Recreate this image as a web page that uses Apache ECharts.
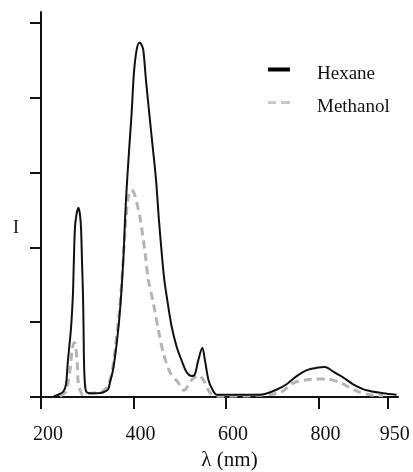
<!DOCTYPE html>
<html>
<head>
<meta charset="utf-8">
<script src="https://cdn.jsdelivr.net/npm/echarts@6/dist/echarts.min.js"></script>
<style>html,body{margin:0;padding:0;background:#fff}#c{width:413px;height:472px}</style>
</head>
<body>
<div id="c"></div>
<script>
// Wavelength (nm) and relative intensity for each solvent
var hexaneWavelength = [228, 237, 248, 254, 258, 265, 269, 271, 273.5, 277, 281, 284, 286.5, 288.7, 290.8, 292, 293, 295, 298, 306, 321, 334, 345, 349, 356, 364, 371, 378, 382, 385, 391, 396, 401, 407, 412.6, 416, 421, 427, 434, 441.5, 448.7, 455, 461, 466.6, 474, 482.6, 493.5, 504, 515, 526, 533, 540, 548.8, 554.6, 562, 569, 580, 600, 630, 674, 710, 731, 753, 775, 796, 814, 832, 854, 875, 904, 940, 969];
var hexaneIntensity = [0.01, 0.03, 0.07, 0.17, 0.47, 0.93, 1.37, 1.81, 2.27, 2.45, 2.53, 2.45, 2.27, 1.81, 1.37, 0.93, 0.47, 0.17, 0.07, 0.05, 0.05, 0.06, 0.10, 0.19, 0.37, 0.73, 1.17, 1.84, 2.41, 2.77, 3.35, 3.80, 4.34, 4.65, 4.74, 4.73, 4.65, 4.24, 3.80, 3.35, 2.91, 2.37, 1.93, 1.57, 1.26, 0.94, 0.67, 0.49, 0.33, 0.28, 0.31, 0.49, 0.66, 0.49, 0.23, 0.12, 0.03, 0.03, 0.03, 0.03, 0.10, 0.17, 0.28, 0.36, 0.39, 0.40, 0.34, 0.26, 0.17, 0.09, 0.05, 0.03];
var methanolWavelength = [241, 254, 258, 263, 267, 271.4, 274.6, 278, 280, 284, 291, 306, 328, 338, 347, 354.6, 362, 370, 375, 379.5, 384, 389, 396, 401, 407, 414, 425, 432, 442.8, 453.7, 464.5, 479, 497, 509, 526, 540, 551, 562, 570, 587, 658, 717, 746, 775, 796, 818, 847, 883, 911, 940];
var methanolIntensity = [0.01, 0.07, 0.17, 0.37, 0.61, 0.73, 0.70, 0.47, 0.23, 0.10, 0.03, 0.05, 0.06, 0.10, 0.19, 0.37, 0.73, 1.17, 1.57, 2.01, 2.41, 2.68, 2.77, 2.73, 2.60, 2.41, 1.93, 1.57, 1.26, 0.90, 0.59, 0.33, 0.19, 0.09, 0.23, 0.29, 0.23, 0.09, 0.03, 0.01, 0.02, 0.06, 0.19, 0.23, 0.24, 0.24, 0.19, 0.08, 0.03, 0.02];
var xTicks = [200, 400, 600, 800, 950];
var yTicks = [0, 1, 2, 3, 4, 5];
var seriesNames = ['Hexane', 'Methanol'];

function pairs(xs, ys) { return xs.map(function (x, i) { return [x, ys[i]]; }); }

var serif = "'Liberation Serif','Times New Roman',serif";
var chart = echarts.init(document.getElementById('c'), null, {renderer: 'canvas'});
chart.setOption({
  animation: false,
  backgroundColor: '#fff',
  grid: {left: 41, right: 15, top: 12, bottom: 75, containLabel: false, outerBoundsMode: 'none'},
  legend: {
    orient: 'vertical', left: 268, top: 65, padding: 0, itemGap: 14,
    itemWidth: 22, itemHeight: 14,
    textStyle: {fontFamily: serif, fontSize: 19, color: '#111', padding: [0, 0, 0, 22]},
    data: [
      {name: seriesNames[0], icon: 'path://M0,0L22,0L22,4L0,4Z M0,14L22,14', itemStyle: {color: '#000', borderWidth: 0}},
      {name: seriesNames[1], icon: 'path://M0,1L8,1L8,4L0,4Z M13,1L22,1L22,4L13,4Z M0,14L22,14', itemStyle: {color: '#c8c8c8', borderWidth: 0}}
    ]
  },
  graphic: [{
    type: 'text', left: 13, top: 219,
    style: {text: 'I', font: "18px 'Liberation Serif','Times New Roman',serif", fill: '#111'}
  }],
  xAxis: {
    type: 'value', min: 200, max: 972,
    name: 'λ (nm)', nameLocation: 'middle', nameGap: 47,
    nameTextStyle: {fontFamily: serif, fontSize: 21, color: '#111', padding: [0, 0, 0, 20]},
    axisLine: {lineStyle: {color: '#111', width: 2}},
    axisTick: {customValues: xTicks, length: 12, lineStyle: {color: '#111', width: 2}},
    axisLabel: {customValues: xTicks, margin: 28, fontFamily: serif, fontSize: 20, color: '#111', padding: [0, 0, 0, 14]},
    splitLine: {show: false}
  },
  yAxis: {
    type: 'value', min: 0, max: 5.15,
    axisLine: {show: true, lineStyle: {color: '#111', width: 2}},
    axisTick: {show: true, customValues: yTicks, length: 11, lineStyle: {color: '#111', width: 2}},
    axisLabel: {show: false},
    splitLine: {show: false}
  },
  series: [
    {name: seriesNames[0], type: 'line', data: pairs(hexaneWavelength, hexaneIntensity),
     showSymbol: false, symbol: 'none', smooth: 0.3, z: 3,
     lineStyle: {color: '#111', width: 2}, itemStyle: {color: '#000'}},
    {name: seriesNames[1], type: 'line', data: pairs(methanolWavelength, methanolIntensity),
     showSymbol: false, symbol: 'none', smooth: 0.3, z: 2,
     lineStyle: {color: '#b4b4b4', width: 3, type: [8, 5]}, itemStyle: {color: '#c8c8c8'}}
  ]
});
</script>
</body>
</html>
